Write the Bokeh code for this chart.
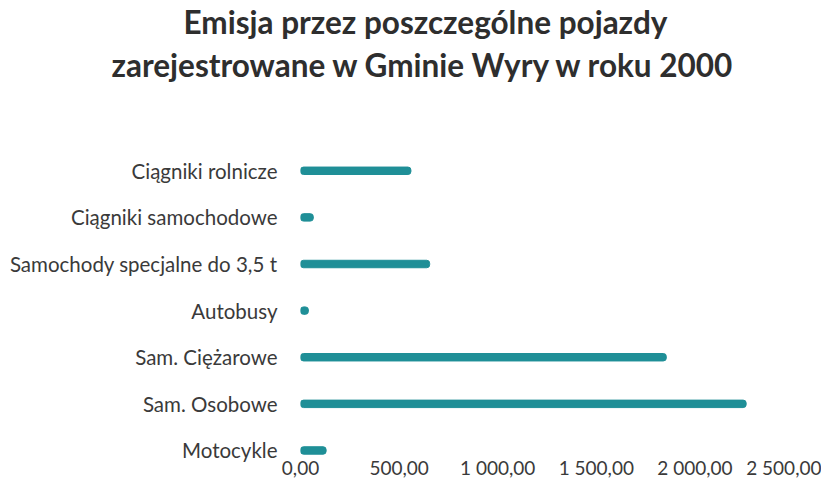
from bokeh.plotting import figure
from bokeh.models import Title, FixedTicker, Range1d
from bokeh.embed import file_html
from bokeh.resources import INLINE

categories = ["Motocykle", "Sam. Osobowe", "Sam. Ciężarowe", "Autobusy",
              "Samochody specjalne do 3,5 t", "Ciągniki samochodowe", "Ciągniki rolnicze"]
values = [130, 2260, 1855, 40, 655, 65, 560]
ticks = [0, 500, 1000, 1500, 2000, 2500]
tick_labels = ["0,00", "500,00", "1 000,00", "1 500,00", "2 000,00", "2 500,00"]

FONT = "Lato"
TXT = "#3a3a3a"
pos = list(range(len(categories)))

p = figure(x_range=Range1d(0, 2500), y_range=Range1d(-0.108, 7.10), width=821, height=481,
           output_backend="svg", toolbar_location=None,
           min_border_left=300, min_border_right=28, min_border_bottom=0, min_border_top=26)
p.title = None
p.hbar(y=pos, right=values, left=0, height=0.16, color="#1f8f97", border_radius=3)

# spacer between title and plot
p.add_layout(Title(text=" ", text_font_size="1px", standoff=30), "above")
p.add_layout(Title(text="zarejestrowane w Gminie Wyry w roku 2000", align="left", offset=-189,
                   text_font=FONT, text_font_size="31.5px", text_font_style="bold",
                   text_color="#2e2e2e", standoff=6), "above")
p.add_layout(Title(text="Emisja przez poszczególne pojazdy", align="left", offset=-117,
                   text_font=FONT, text_font_size="31.5px", text_font_style="bold",
                   text_color="#2e2e2e", standoff=0), "above")

p.xaxis.ticker = FixedTicker(ticks=ticks)
p.xaxis.major_label_overrides = {t: l for t, l in zip(ticks, tick_labels)}
p.yaxis.ticker = FixedTicker(ticks=pos)
p.yaxis.major_label_overrides = {i: c for i, c in zip(pos, categories)}
for ax in (p.xaxis, p.yaxis):
    ax.axis_line_color = None
    ax.major_tick_line_color = None
    ax.minor_tick_line_color = None
    ax.major_label_text_font = FONT
    ax.major_label_text_color = TXT
p.xaxis.major_label_text_font_size = "19px"
p.yaxis.major_label_text_font_size = "20.5px"
p.xaxis.major_label_standoff = -6
p.yaxis.major_label_standoff = 17
p.grid.grid_line_color = None
p.outline_line_color = None

open("out.html", "w").write(file_html(p, INLINE))
